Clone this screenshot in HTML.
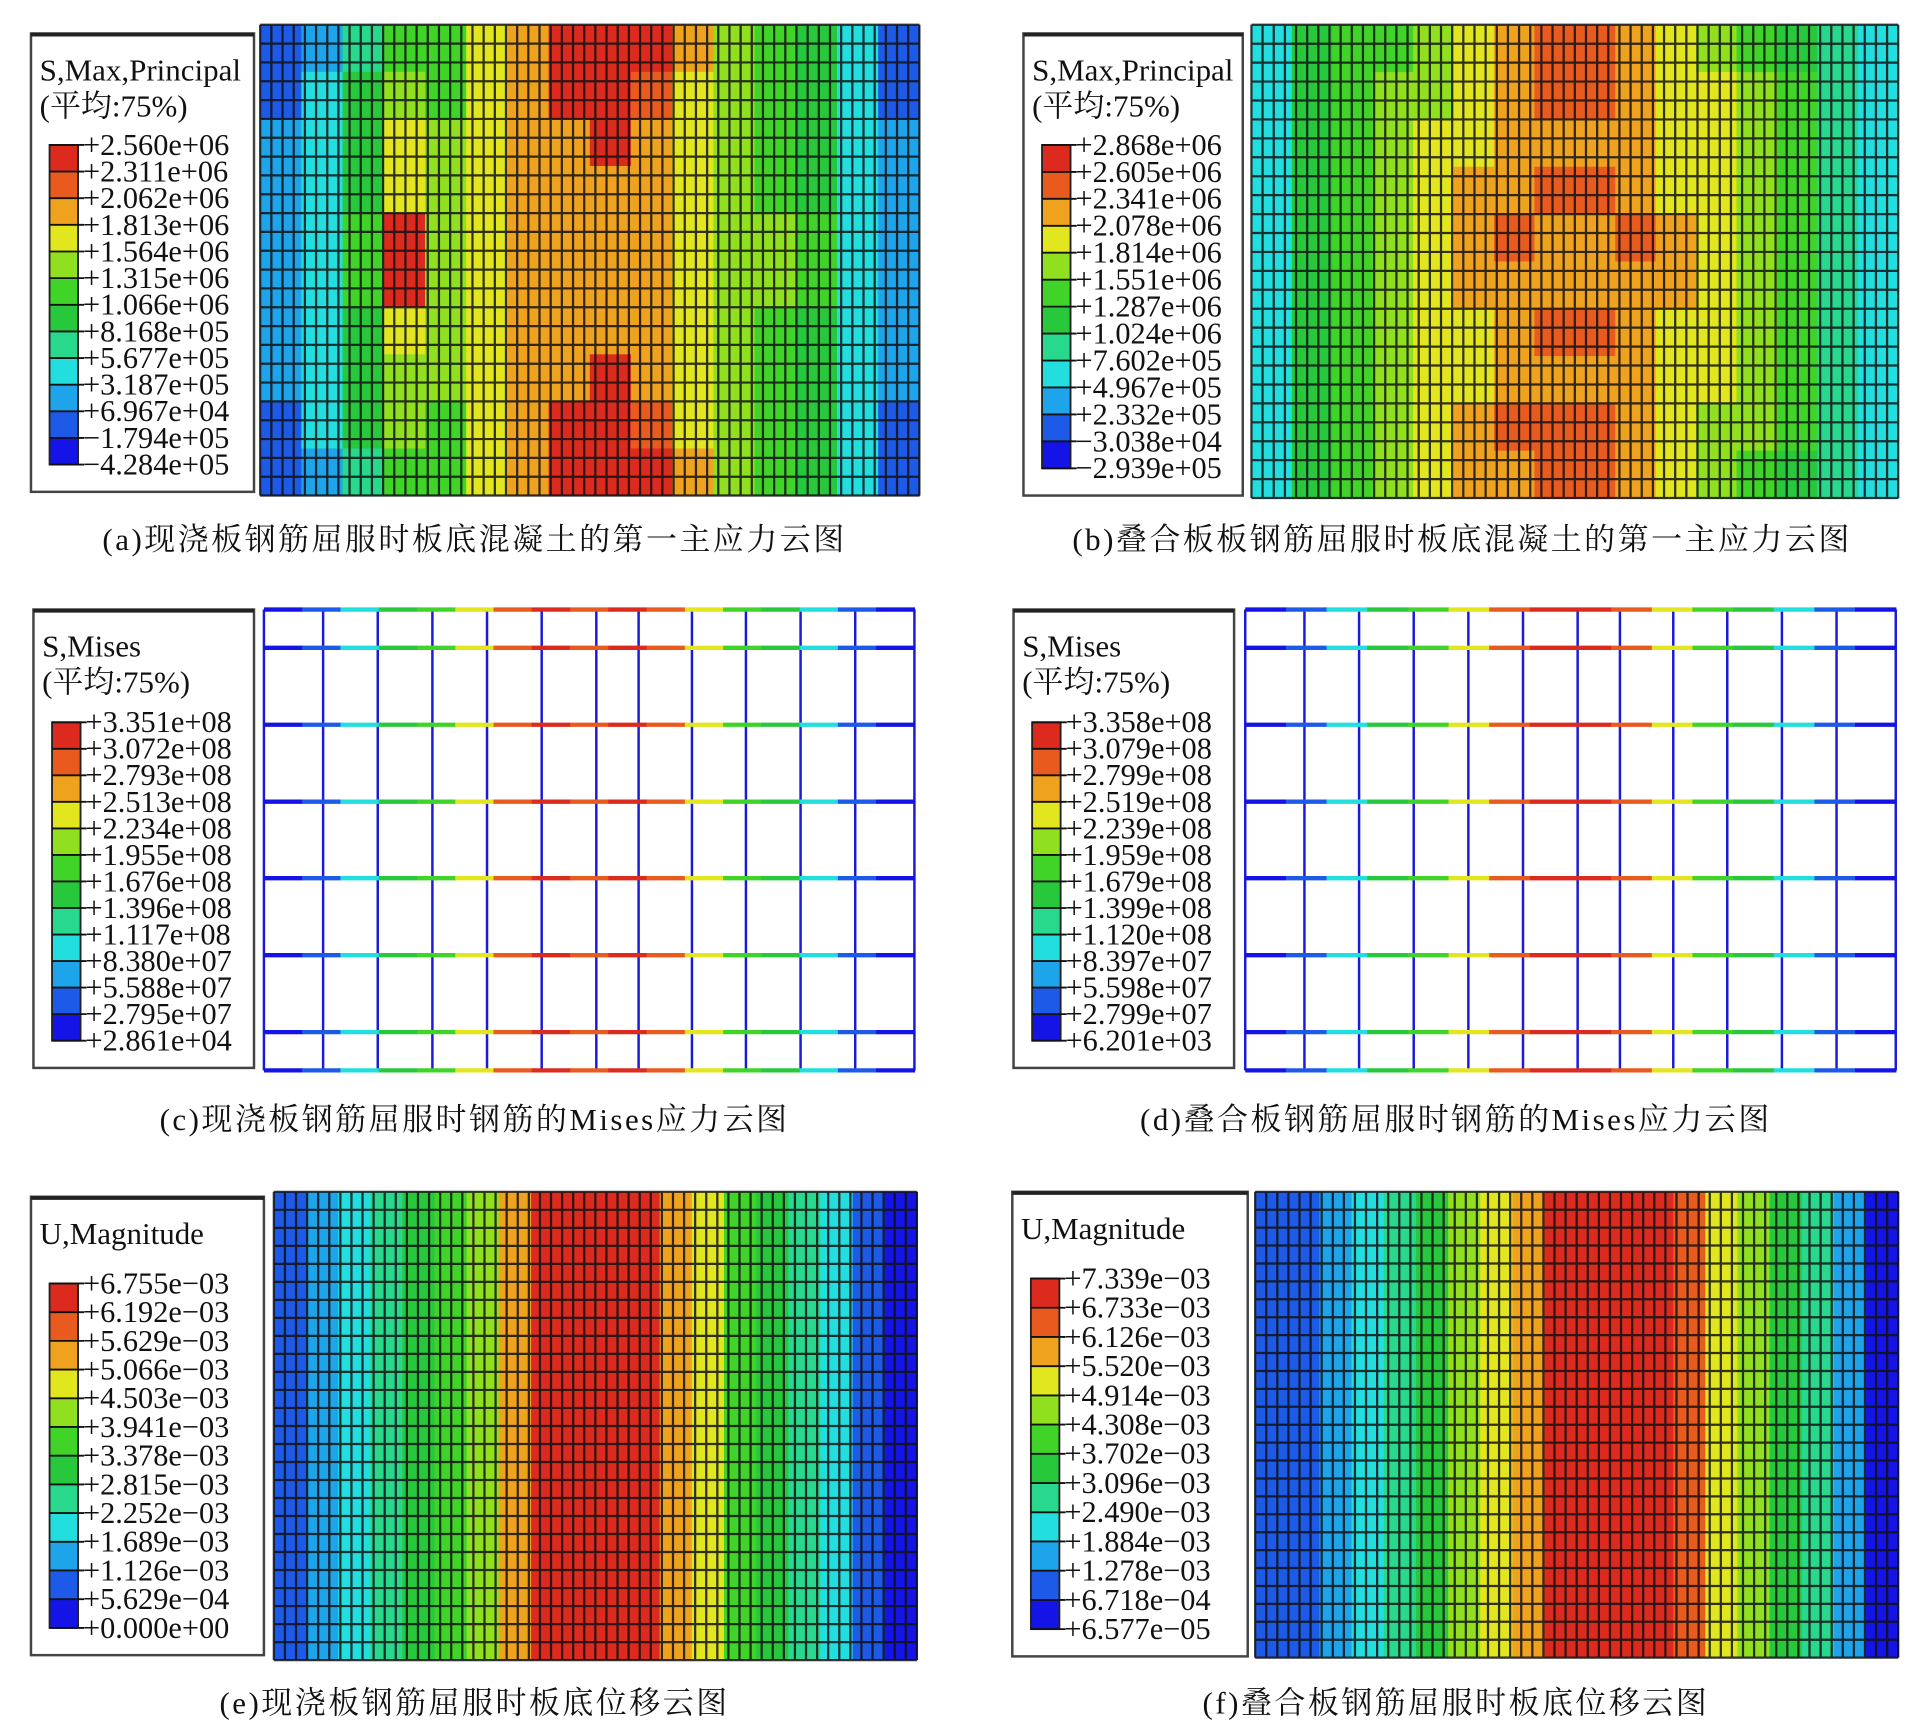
<!DOCTYPE html>
<html><head><meta charset="utf-8"><style>
html,body{margin:0;padding:0;background:#fff;width:1923px;height:1727px;overflow:hidden}
svg text{font-family:"Liberation Serif","Noto Serif CJK SC",serif;fill:#111}
</style></head><body>
<svg id="fig" width="1923" height="1727" viewBox="0 0 1552 1394" preserveAspectRatio="none" xmlns="http://www.w3.org/2000/svg"></svg>
<script>
// band colours, index 0 (lowest, blue) .. 11 (highest, red)
const bandColors = ["#1414e6","#1e5ae8","#1ea4ea","#22dede","#28d88c","#28c83c","#40d428","#90e020","#e2e61e","#eea21e","#e85a1e","#dc2a1e"];
const legendA = ["+2.560e+06","+2.311e+06","+2.062e+06","+1.813e+06","+1.564e+06","+1.315e+06","+1.066e+06","+8.168e+05","+5.677e+05","+3.187e+05","+6.967e+04","\u22121.794e+05","\u22124.284e+05"];
const legendB = ["+2.868e+06","+2.605e+06","+2.341e+06","+2.078e+06","+1.814e+06","+1.551e+06","+1.287e+06","+1.024e+06","+7.602e+05","+4.967e+05","+2.332e+05","\u22123.038e+04","\u22122.939e+05"];
const legendC = ["+3.351e+08","+3.072e+08","+2.793e+08","+2.513e+08","+2.234e+08","+1.955e+08","+1.676e+08","+1.396e+08","+1.117e+08","+8.380e+07","+5.588e+07","+2.795e+07","+2.861e+04"];
const legendD = ["+3.358e+08","+3.079e+08","+2.799e+08","+2.519e+08","+2.239e+08","+1.959e+08","+1.679e+08","+1.399e+08","+1.120e+08","+8.397e+07","+5.598e+07","+2.799e+07","+6.201e+03"];
const legendE = ["+6.755e\u221203","+6.192e\u221203","+5.629e\u221203","+5.066e\u221203","+4.503e\u221203","+3.941e\u221203","+3.378e\u221203","+2.815e\u221203","+2.252e\u221203","+1.689e\u221203","+1.126e\u221203","+5.629e\u221204","+0.000e+00"];
const legendF = ["+7.339e\u221203","+6.733e\u221203","+6.126e\u221203","+5.520e\u221203","+4.914e\u221203","+4.308e\u221203","+3.702e\u221203","+3.096e\u221203","+2.490e\u221203","+1.884e\u221203","+1.278e\u221203","+6.718e\u221204","+6.577e\u221205"];
// field band indices (rows x cols)
const fieldA = [
[1,2,4,6,6,8,9,11,11,11,9,7,6,5,3,1],
[1,3,5,7,6,8,9,11,11,10,8,7,6,5,3,1],
[2,3,5,8,7,8,9,9,11,9,8,7,6,5,3,2],
[2,3,5,8,7,8,9,9,9,9,8,7,6,5,3,2],
[2,3,6,11,7,8,9,9,9,9,8,7,7,6,3,2],
[2,3,6,11,7,8,9,9,9,9,8,7,7,6,3,2],
[2,3,5,8,7,8,9,9,9,9,8,7,6,5,3,2],
[2,3,5,7,7,8,9,9,11,9,8,7,6,5,3,2],
[1,3,5,7,6,8,9,11,11,10,8,7,6,5,3,1],
[1,2,4,6,6,8,9,11,11,11,9,7,6,5,3,1]];
const fieldB = [
[3,5,6,6,7,8,9,10,10,9,8,7,6,5,4,3],
[3,5,6,7,7,8,9,10,10,9,8,8,7,6,4,3],
[3,5,6,7,8,8,9,9,9,9,8,8,7,6,4,3],
[3,5,6,7,8,9,9,10,10,9,8,8,7,6,4,3],
[3,5,6,7,8,9,10,9,9,10,9,8,7,6,4,3],
[3,5,6,7,8,9,9,9,9,9,9,8,7,6,4,3],
[3,5,6,7,8,8,9,10,10,9,8,8,7,6,4,3],
[3,5,6,7,8,8,9,9,9,9,8,8,7,6,4,3],
[3,5,6,7,8,9,10,10,10,9,8,7,7,6,4,3],
[3,5,6,7,8,9,9,10,10,9,8,7,6,5,4,3]];
const profileE = [1,2,3,4,5,6,7,9,11,11,11,11,9,8,6,5,4,3,1,0];
const profileF = [1,1,2,3,4,5,7,8,9,11,11,11,11,10,8,7,5,4,2,0];
const barProfileC = [0,1,3,5,6,8,10,11,10,11,10,8,6,5,3,1,0];
const barProfileD = [0,1,3,5,6,8,10,11,11,10,8,6,5,3,1,0];

const S = document.getElementById('fig');
const NS = "http://www.w3.org/2000/svg";
function mk(tag, attrs, parent){const e=document.createElementNS(NS,tag);for(const k in attrs)e.setAttribute(k,attrs[k]);(parent||S).appendChild(e);return e;}

function legend(x,y,w,h,titles,labels,barTop,name){
  const g=mk('g',{});
  
  
  mk('rect',{x:x,y:y,width:w,height:h,fill:'#fff',stroke:'#444','stroke-width':2},g);
  mk('line',{x1:x,y1:y+1,x2:x+w,y2:y+1,stroke:'#222','stroke-width':3},g);
  titles.forEach((t,i)=>{const tx=mk('text',{x:x+7,y:y+38+i*29,'font-size':25},g);tx.textContent=t;});
  const bx=x+15, bw=23, step=(h-barTop-22)/12;
  for(let i=0;i<12;i++){
    mk('rect',{x:bx,y:y+barTop+i*step,width:bw,height:step,fill:bandColors[11-i]},g);
  }
  mk('rect',{x:bx,y:y+barTop,width:bw,height:step*12,fill:'none',stroke:'#222','stroke-width':1.5},g);
  labels.forEach((l,i)=>{
    const ly=y+barTop+i*step;
    mk('line',{x1:bx,y1:ly,x2:bx+bw+5,y2:ly,stroke:'#111','stroke-width':1.5},g);
    const t=mk('text',{x:bx+bw+4,y:ly+8,'font-size':24.5},g);t.textContent=l;
  });
}
function field(x,y,w,h,grid,name,cols,rows){
  const g=mk('g',{});
  
  
  const R=grid.length,C=grid[0].length,cw=w/C,rh=h/R;
  grid.forEach((row,r)=>row.forEach((v,c)=>{
    mk('rect',{x:x+c*cw,y:y+r*rh,width:cw+0.6,height:rh+0.6,fill:bandColors[v]},g);
  }));
  mesh(g,x,y,w,h,cols,rows);
}
function profileField(x,y,w,h,prof,name,cols,rows){
  const g=mk('g',{});
  
  
  const cw=w/prof.length;
  prof.forEach((v,c)=>mk('rect',{x:x+c*cw,y:y,width:cw+0.6,height:h,fill:bandColors[v]},g));
  mesh(g,x,y,w,h,cols,rows);
}
function mesh(g,x,y,w,h,cols,rows){
  let d='';
  for(let i=0;i<=cols;i++){const xx=x+i*w/cols;d+='M'+xx+' '+y+'V'+(y+h);}
  for(let j=0;j<=rows;j++){const yy=y+j*h/rows;d+='M'+x+' '+yy+'H'+(x+w);}
  mk('path',{d:d,stroke:'#111','stroke-width':1.8,'stroke-opacity':0.85,fill:'none'},g);
}
function rebar(x,y,w,h,hys,vxs,prof,name){
  const g=mk('g',{});
  
  
  vxs.forEach(f=>mk('line',{x1:x+f*w,y1:y,x2:x+f*w,y2:y+h,stroke:'#1a1ad8','stroke-width':2},g));
  hys.forEach(f=>{
    const yy=y+f*h, sw=w/prof.length;
    prof.forEach((v,i)=>mk('line',{x1:x+i*sw,y1:yy,x2:x+(i+1)*sw+0.5,y2:yy,stroke:bandColors[v],'stroke-width':3.5},g));
  });
}
function caption(cx,y,t,name){
  const e=mk('text',{x:cx,y:y,'font-size':25,'text-anchor':'middle','letter-spacing':2});
  
  
  e.textContent=t;
}
const hLines=[0,0.083,0.25,0.417,0.583,0.75,0.917,1];
const vLines=[0,0.091,0.175,0.259,0.343,0.427,0.511,0.576,0.658,0.741,0.825,0.909,1];

field(210,20,532,380,fieldA,'plot-a-contour',59,25);
legend(25,27,180,370,['S,Max,Principal','(平均:75%)'],legendA,90,'legend-a');
caption(383,444,'(a)现浇板钢筋屈服时板底混凝土的第一主应力云图','caption-a');

field(1010,20,522,382,fieldB,'plot-b-contour',58,25);
legend(826,27,177,373,['S,Max,Principal','(平均:75%)'],legendB,90,'legend-b');
caption(1180,444,'(b)叠合板板钢筋屈服时板底混凝土的第一主应力云图','caption-b');

rebar(213,492,525,372,hLines,vLines,barProfileC,'plot-c-rebar');
legend(27,492,178,370,['S,Mises','(平均:75%)'],legendC,91,'legend-c');
caption(383,912,'(c)现浇板钢筋屈服时钢筋的Mises应力云图','caption-c');

rebar(1005,492,525,372,hLines,vLines,barProfileD,'plot-d-rebar');
legend(818,492,178,370,['S,Mises','(平均:75%)'],legendD,91,'legend-d');
caption(1175,912,'(d)叠合板钢筋屈服时钢筋的Mises应力云图','caption-d');

profileField(221,962,519,378,profileE,'plot-e-contour',58,26);
legend(25,966,188,370,['U,Magnitude'],legendE,70,'legend-e');
caption(383,1383,'(e)现浇板钢筋屈服时板底位移云图','caption-e');

profileField(1013,962,519,376,profileF,'plot-f-contour',58,26);
legend(817,962,190,375,['U,Magnitude'],legendF,70,'legend-f');
caption(1175,1383,'(f)叠合板钢筋屈服时板底位移云图','caption-f');
</script>
</body></html>
